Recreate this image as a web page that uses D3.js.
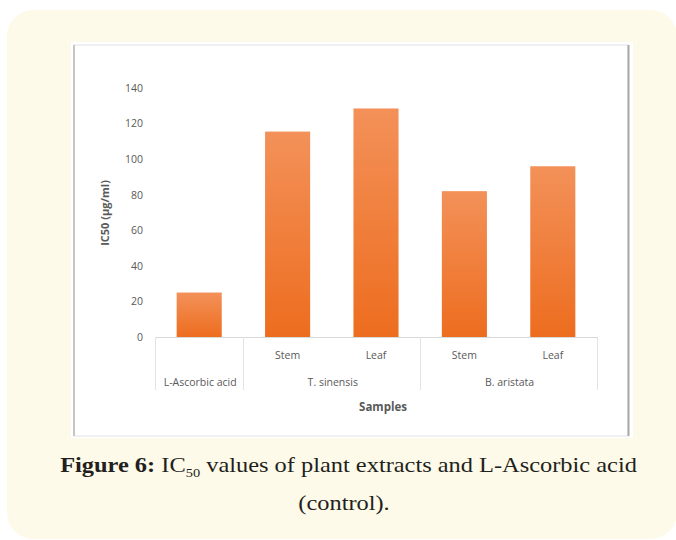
<!DOCTYPE html>
<html>
<head>
<meta charset="utf-8">
<script src="https://cdn.jsdelivr.net/npm/d3@7"></script>
<style>
  html, body { margin: 0; padding: 0; background: #ffffff; }
  svg { display: block; }
</style>
</head>
<body>
<svg id="chart" width="676" height="540"></svg>
<script>
// ---- data ----
const groups = ["L-Ascorbic acid", "T. sinensis", "T. sinensis", "B. aristata", "B. aristata"];
const parts = ["", "Stem", "Leaf", "Stem", "Leaf"];
const values = [25, 115.5, 128.5, 82, 96];
const yTicks = [0, 20, 40, 60, 80, 100, 120, 140];
const yTitle = "IC50 (µg/ml)";
const xTitle = "Samples";

const svg = d3.select("#chart");

// background panel
svg.append("rect").attr("x", 7).attr("y", 10).attr("width", 670).attr("height", 529)
  .attr("rx", 26).attr("fill", "#fefae9");

// chart image box
svg.append("rect").attr("x", 71).attr("y", 42).attr("width", 562).attr("height", 396).attr("fill", "#ffffff");
svg.append("rect").attr("x", 74).attr("y", 45).attr("width", 554).attr("height", 391)
  .attr("fill", "none").attr("stroke", "#e2e2e2").attr("stroke-width", 1);
svg.append("line").attr("x1", 74).attr("x2", 74).attr("y1", 45).attr("y2", 436).attr("stroke", "#b8b8b8").attr("stroke-width", 1.5);
svg.append("line").attr("x1", 628.5).attr("x2", 628.5).attr("y1", 45).attr("y2", 436).attr("stroke", "#a8a8a8").attr("stroke-width", 2);

// gradient
const defs = svg.append("defs");
const grad = defs.append("linearGradient").attr("id", "barGrad").attr("x1", 0).attr("y1", 0).attr("x2", 0).attr("y2", 1);
grad.append("stop").attr("offset", "0%").attr("stop-color", "#f39159");
grad.append("stop").attr("offset", "100%").attr("stop-color", "#ed6d1f");

const idx = d3.range(values.length);
const x = d3.scaleBand().domain(idx).range([155, 597]).paddingInner(0.49).paddingOuter(0.245);
const y = d3.scaleLinear().domain([0, 140]).range([337, 88]);

const font = "'Open Sans', sans-serif";
const gray = "#595959";

// y tick labels
const yAxis = d3.axisLeft(y).tickValues(yTicks).tickSize(0).tickPadding(0);
const ya = svg.append("g").attr("transform", "translate(143,0)").call(yAxis);
ya.select(".domain").remove();
ya.selectAll("text").attr("font-family", font).attr("font-size", 10.5).attr("fill", gray);

// bars
svg.append("g").selectAll("rect").data(idx).join("rect")
  .attr("x", i => x(i)).attr("width", x.bandwidth())
  .attr("y", i => y(values[i])).attr("height", i => y(0) - y(values[i]))
  .attr("fill", "url(#barGrad)");

// x axis baseline
const step = x.step();
const x0 = 155, x1 = 597;
svg.append("line").attr("x1", x0).attr("x2", x1).attr("y1", 337.5).attr("y2", 337.5).attr("stroke", "#d9d9d9");

// group separators
const groupNames = [...new Set(groups)];
const groupInfo = groupNames.map(g => {
  const members = idx.filter(i => groups[i] === g);
  const left = x(members[0]) - (step - x.bandwidth()) / 2;
  const right = x(members[members.length - 1]) + x.bandwidth() + (step - x.bandwidth()) / 2;
  return { g, left, right };
});
const seps = [groupInfo[0].left, ...groupInfo.map(d => d.right)];
svg.append("g").selectAll("line").data(seps).join("line")
  .attr("x1", d => Math.round(d) + 0.5).attr("x2", d => Math.round(d) + 0.5)
  .attr("y1", 337).attr("y2", 390).attr("stroke", "#e3e3e3");

// sub labels
svg.append("g").selectAll("text").data(idx.filter(i => parts[i])).join("text")
  .attr("x", i => x(i) + x.bandwidth() / 2).attr("y", 359)
  .attr("text-anchor", "middle").attr("font-family", font).attr("font-size", 10.5).attr("fill", gray)
  .text(i => parts[i]);

// group labels
svg.append("g").selectAll("text").data(groupInfo).join("text")
  .attr("x", d => (d.left + d.right) / 2 + 1).attr("y", 386)
  .attr("text-anchor", "middle").attr("font-family", font).attr("font-size", 10.5).attr("fill", gray)
  .text(d => d.g);

// axis titles
svg.append("text").attr("x", 383).attr("y", 411).attr("text-anchor", "middle")
  .attr("font-family", font).attr("font-size", 11.5).attr("font-weight", "bold").attr("fill", gray)
  .text(xTitle);
svg.append("text").attr("transform", "translate(109,213) rotate(-90)").attr("text-anchor", "middle")
  .attr("font-family", font).attr("font-size", 11).attr("font-weight", "bold").attr("fill", gray)
  .text(yTitle);

// caption (horizontally stretched serif to mimic the reference face)
const capFont = "'Liberation Serif', 'Times New Roman', serif";
const capG1 = svg.append("g");
const cap1 = capG1.append("text").attr("x", 0).attr("y", 0).attr("text-anchor", "middle")
  .attr("font-family", capFont).attr("font-size", 22).attr("fill", "#231f20");
cap1.append("tspan").attr("font-weight", "bold").text("Figure 6:");
cap1.append("tspan").text(" IC");
cap1.append("tspan").attr("font-size", 13).attr("dy", 5).text("50");
cap1.append("tspan").attr("dy", -5).text(" values of plant extracts and L-Ascorbic acid");
const w1 = cap1.node().getComputedTextLength();
const sx = 577 / w1;
capG1.attr("transform", `translate(348.5,472) scale(${sx},1)`);

const capG2 = svg.append("g").attr("transform", `translate(344,510) scale(${sx},1)`);
capG2.append("text").attr("x", 0).attr("y", 0).attr("text-anchor", "middle")
  .attr("font-family", capFont).attr("font-size", 22).attr("fill", "#231f20")
  .text("(control).");
</script>
</body>
</html>
